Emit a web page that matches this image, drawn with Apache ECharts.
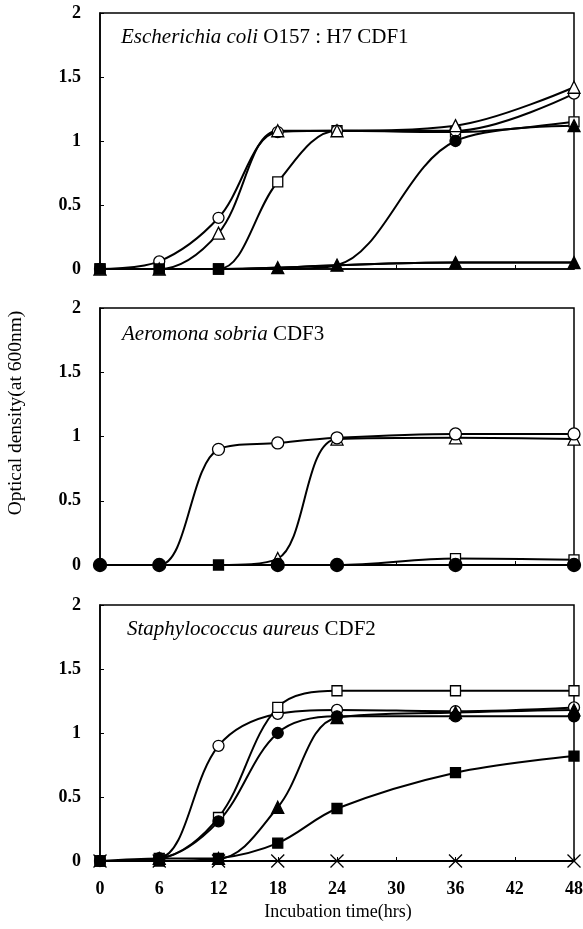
<!DOCTYPE html>
<html><head><meta charset="utf-8">
<script src="https://cdn.jsdelivr.net/npm/echarts@6/dist/echarts.min.js"></script>
<style>html,body{margin:0;padding:0;background:#fff}#c{width:583px;height:929px}</style>
</head><body><div id="c"></div>
<script>
const hours = [0, 6, 12, 18, 24, 36, 48];
const xTicks = [0, 6, 12, 18, 24, 30, 36, 42, 48];
const yTicks = [0, 0.5, 1, 1.5, 2];

// Panel 1: Escherichia coli O157:H7 CDF1
const ecoliOpenCircle   = [0, 0.06, 0.40, 1.07, 1.08, 1.08, 1.37];
const ecoliOpenTriangle = [0, 0.00, 0.28, 1.08, 1.08, 1.12, 1.42];
const ecoliOpenSquare   = [0, 0.00, 0.00, 0.68, 1.08, 1.07, 1.15];
const ecoliFilledCircle = [0, 0.00, 0.00, 0.00, 0.03, 1.00, 1.12];
const ecoliFilledSquare = [0, 0.00, 0.00, 0.01, 0.03, 0.05, 0.05];
const ecoliFilledTri    = [0, 0.00, 0.00, 0.01, 0.03, 0.05, 0.05];

// Panel 2: Aeromona sobria CDF3
const aeroOpenCircle   = [0, 0.00, 0.90, 0.95, 0.99, 1.02, 1.02];
const aeroOpenTriangle = [0, 0.00, 0.00, 0.05, 0.98, 0.99, 0.98];
const aeroOpenSquare   = [0, 0.00, 0.00, 0.00, 0.00, 0.05, 0.04];
const aeroFilledSquare = [0, 0.00, 0.00, 0.00, 0.00, 0.00, 0.00];
const aeroFilledCircle = [0, 0.00, 0.00, 0.00, 0.00, 0.00, 0.00];

// Panel 3: Staphylococcus aureus CDF2
const staphOpenCircle   = [0, 0.02, 0.90, 1.15, 1.18, 1.17, 1.20];
const staphOpenSquare   = [0, 0.02, 0.34, 1.20, 1.33, 1.33, 1.33];
const staphFilledCircle = [0, 0.02, 0.31, 1.00, 1.13, 1.13, 1.13];
const staphFilledTri    = [0, 0.02, 0.02, 0.42, 1.12, 1.16, 1.18];
const staphFilledSquare = [0, 0.00, 0.02, 0.14, 0.41, 0.69, 0.82];
const staphCross        = [0, 0.00, 0.00, 0.00, 0.00, 0.00, 0.00];

const titles = [
  ['Escherichia coli', ' O157 : H7 CDF1'],
  ['Aeromona sobria', ' CDF3'],
  ['Staphylococcus aureus', ' CDF2']
];
const yTitle = 'Optical density(at 600nm)';
const xTitle = 'Incubation time(hrs)';

const FONT = '"Liberation Serif", "Times New Roman", serif';
const CROSS = 'path://M0,0L10,10M10,0L0,10';

const grids = [
  {left: 100, right: 9, top: 13, height: 256},
  {left: 100, right: 9, top: 308, height: 257},
  {left: 100, right: 9, top: 605, height: 256}
];
const titlePos = [{left: 121, top: 27}, {left: 122, top: 324}, {left: 127, top: 619}];

function sizeOf(s) {
  if (s === 'triangle') return 12;
  if (s === CROSS) return 13;
  if (s === 'circle') return 11;
  return 10;
}

// opts: {only: [hours where marker shows], hide: [hours hidden], last: symbol at 48, size}
function mk(gi, data, symbol, filled, opts) {
  opts = opts || {};
  const symAt = function (v) {
    if (opts.only && opts.only.indexOf(v[0]) < 0) return 'none';
    if (opts.hide && opts.hide.indexOf(v[0]) >= 0) return 'none';
    if (opts.last && v[0] === 48) return opts.last;
    return symbol;
  };
  return {
    type: 'line', xAxisIndex: gi, yAxisIndex: gi,
    data: hours.map((h, i) => [h, data[i]]),
    smooth: 0.35,
    symbol: symAt,
    symbolSize: function (v) { const s = symAt(v); return (opts.size && s === symbol) ? opts.size : sizeOf(s); },
    showAllSymbol: true,
    lineStyle: {color: '#000', width: 2},
    itemStyle: {color: symbol === CROSS ? 'none' : (filled ? '#000' : '#fff'), borderColor: '#000', borderWidth: 1.3},
    animation: false
  };
}

const series = [
  mk(0, ecoliOpenSquare, 'rect', false),
  mk(0, ecoliOpenCircle, 'circle', false),
  mk(0, ecoliOpenTriangle, 'triangle', false),
  mk(0, ecoliFilledSquare, 'rect', true, {only: [0, 6, 12]}),
  mk(0, ecoliFilledTri, 'triangle', true, {only: [18, 24, 36, 48]}),
  mk(0, ecoliFilledCircle, 'circle', true, {only: [36, 48], last: 'triangle'}),

  mk(1, aeroOpenSquare, 'rect', false, {only: [36, 48]}),
  mk(1, aeroOpenTriangle, 'triangle', false, {only: [18, 24, 36, 48]}),
  mk(1, aeroOpenCircle, 'circle', false, {only: [12, 18, 24, 36, 48], size: 12}),
  mk(1, aeroFilledSquare, 'rect', true, {only: [12]}),
  mk(1, aeroFilledCircle, 'circle', true, {hide: [12], size: 13}),

  mk(2, staphOpenCircle, 'circle', false),
  mk(2, staphOpenSquare, 'rect', false),
  mk(2, staphCross, CROSS, false),
  mk(2, staphFilledSquare, 'rect', true),
  mk(2, staphFilledTri, 'triangle', true, {hide: [0]}),
  mk(2, staphFilledCircle, 'circle', true, {hide: [0]})
];

const xAxes = grids.map((g, i) => ({
  type: 'value', gridIndex: i, min: 0, max: 48, interval: 6,
  axisLine: {lineStyle: {color: '#000', width: 1.5}},
  axisTick: {show: true, inside: true, length: 4, lineStyle: {color: '#000'}},
  splitLine: {show: false},
  axisLabel: {show: i === 2, margin: 19, color: '#000', fontFamily: FONT, fontWeight: 'bold', fontSize: 18,
    customValues: xTicks}
}));

const yAxes = grids.map((g, i) => ({
  type: 'value', gridIndex: i, min: 0, max: 2, interval: 0.5,
  axisLine: {show: true, lineStyle: {color: '#000', width: 1.5}},
  axisTick: {show: true, inside: true, length: 4, lineStyle: {color: '#000'}},
  splitLine: {show: false},
  axisLabel: {margin: 19, color: '#000', fontFamily: FONT, fontWeight: 'bold', fontSize: 18,
    customValues: yTicks}
}));

const chart = echarts.init(document.getElementById('c'), null, {renderer: 'canvas'});
chart.setOption({
  backgroundColor: '#fff',
  animation: false,
  title: titles.map((t, i) => ({
    text: '{i|' + t[0] + '}{n|' + t[1] + '}',
    left: titlePos[i].left, top: titlePos[i].top, padding: 0,
    textStyle: {fontWeight: 'normal', rich: {
      i: {fontFamily: FONT, fontStyle: 'italic', fontWeight: 'normal', fontSize: 21, color: '#000'},
      n: {fontFamily: FONT, fontWeight: 'normal', fontSize: 21, color: '#000'}
    }}
  })),
  graphic: [
    {type: 'text', x: 16, y: 413, rotation: Math.PI / 2,
      style: {text: yTitle, font: '19.5px ' + FONT, fill: '#000', textAlign: 'center', textVerticalAlign: 'middle'}},
    {type: 'text', x: 338, y: 912,
      style: {text: xTitle, font: '18px ' + FONT, fill: '#000', textAlign: 'center', textVerticalAlign: 'middle'}}
  ],
  grid: grids.map(g => Object.assign({show: true, borderColor: '#000', borderWidth: 1.5,
    backgroundColor: 'transparent', outerBoundsMode: 'none', containLabel: false}, g)),
  xAxis: xAxes,
  yAxis: yAxes,
  series: series
});
</script></body></html>
